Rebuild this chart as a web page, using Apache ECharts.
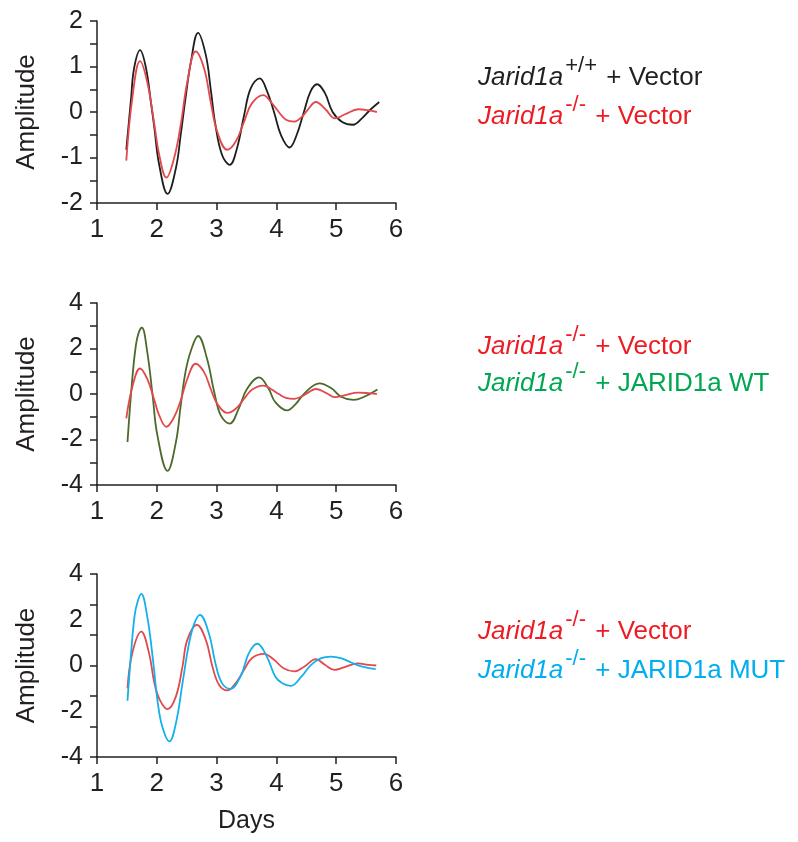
<!DOCTYPE html>
<html>
<head>
<meta charset="utf-8">
<script src="https://cdn.jsdelivr.net/npm/echarts@6/dist/echarts.min.js"></script>
<style>
html, body { margin: 0; padding: 0; background: #ffffff; }
#chart { width: 798px; height: 842px; }
</style>
</head>
<body>
<div id="chart"></div>
<script>
// Oscillation traces: amplitude against days.

// Jarid1a+/+ + Vector (top panel)
const wtVectorDays = [1.49, 1.57, 1.62, 1.72, 1.82, 1.9, 1.96, 2.04, 2.18, 2.32, 2.4, 2.48, 2.57, 2.69, 2.82, 2.9, 2.98, 3.09, 3.22, 3.34, 3.46, 3.57, 3.72, 3.84, 3.96, 4.08, 4.22, 4.34, 4.46, 4.57, 4.68, 4.81, 4.94, 5.1, 5.28, 5.43, 5.57, 5.72];
const wtVectorAmp  = [-0.83, 0.30, 0.96, 1.36, 0.96, 0.23, -0.36, -1.16, -1.80, -1.23, -0.5, 0.3, 1.1, 1.74, 1.25, 0.52, -0.28, -0.94, -1.16, -0.8, -0.07, 0.52, 0.74, 0.47, 0.0, -0.52, -0.78, -0.5, 0.0, 0.45, 0.61, 0.42, 0.0, -0.22, -0.28, -0.14, 0.05, 0.22];

// Jarid1a-/- + Vector (top and middle panels)
const koVectorDays = [1.49, 1.59, 1.72, 1.84, 1.96, 2.04, 2.16, 2.29, 2.4, 2.51, 2.65, 2.79, 2.9, 3.01, 3.18, 3.32, 3.46, 3.59, 3.78, 3.92, 4.04, 4.16, 4.3, 4.43, 4.53, 4.66, 4.82, 4.98, 5.15, 5.37, 5.53, 5.68];
const koVectorAmp  = [-1.07, 0.30, 1.12, 0.66, -0.28, -0.94, -1.44, -1.01, -0.28, 0.66, 1.33, 0.96, 0.23, -0.43, -0.83, -0.65, -0.21, 0.19, 0.37, 0.2, 0.0, -0.17, -0.21, -0.1, 0.06, 0.22, 0.06, -0.14, -0.05, 0.06, 0.04, 0];

// Jarid1a-/- + JARID1a WT (middle panel)
const koWtDays = [1.51, 1.59, 1.65, 1.7, 1.75, 1.84, 1.93, 2.01, 2.18, 2.32, 2.4, 2.48, 2.57, 2.69, 2.84, 2.96, 3.07, 3.22, 3.37, 3.51, 3.71, 3.87, 3.98, 4.18, 4.31, 4.47, 4.72, 4.92, 5.08, 5.29, 5.47, 5.69];
const koWtAmp  = [-2.11, 0.67, 2.14, 2.72, 2.92, 1.85, -0.06, -1.82, -3.38, -2.11, -0.5, 0.97, 1.9, 2.55, 1.55, 0.09, -0.94, -1.30, -0.64, 0.23, 0.73, 0.23, -0.35, -0.72, -0.48, 0.03, 0.47, 0.25, -0.12, -0.26, -0.12, 0.2];

// Jarid1a-/- + Vector (bottom panel)
const koVector3Days = [1.51, 1.59, 1.74, 1.87, 1.96, 2.05, 2.18, 2.32, 2.43, 2.51, 2.67, 2.82, 2.93, 3.04, 3.18, 3.32, 3.46, 3.59, 3.79, 3.96, 4.12, 4.3, 4.47, 4.66, 4.81, 4.97, 5.14, 5.36, 5.53, 5.67];
const koVector3Amp  = [-1.0, 0.54, 1.48, 0.54, -0.77, -1.5, -1.91, -1.35, -0.04, 1.12, 1.78, 1.12, -0.04, -0.84, -1.09, -0.77, -0.19, 0.32, 0.51, 0.25, -0.12, -0.26, -0.04, 0.28, 0.03, -0.19, -0.07, 0.09, 0.03, 0];

// Jarid1a-/- + JARID1a MUT (bottom panel)
const koMutDays = [1.51, 1.57, 1.63, 1.68, 1.74, 1.84, 1.93, 2.01, 2.09, 2.21, 2.32, 2.43, 2.54, 2.63, 2.72, 2.87, 2.98, 3.09, 3.23, 3.4, 3.54, 3.68, 3.84, 3.98, 4.1, 4.24, 4.42, 4.58, 4.75, 4.91, 5.08, 5.25, 5.42, 5.66];
const koMutAmp  = [-1.54, 0.54, 2.2, 2.8, 3.13, 2.14, 0.39, -1.5, -2.66, -3.32, -2.52, -0.77, 0.98, 1.85, 2.21, 1.41, 0.10, -0.77, -1.02, -0.48, 0.54, 0.95, 0.39, -0.48, -0.78, -0.89, -0.48, 0.03, 0.32, 0.39, 0.32, 0.13, -0.04, -0.16];

// Axis ranges
const dayTicks = [1, 6, 1];           // min, max, step
const ampRange1 = [-2, 2, 0.5];       // min, max, tick step
const ampRange2 = [-4, 4, 1];
const ampRange3 = [-4, 4, 4 / 3];
const ampLabels3 = [-2, 2];           // extra labels on the bottom panel

const FONT = '"Liberation Sans", Arial, Helvetica, sans-serif';
const AXIS = '#231f20';
const C_BLACK = '#1e1e1e', C_RED = '#e2494c', C_GREEN = '#4a6b2a', C_BLUE = '#14b0ec';

function pairs(xs, ys) { return xs.map((x, i) => [x, ys[i]]); }

const grids = [
  { left: 97, top: 21, width: 299, height: 182 },
  { left: 97, top: 303, width: 299, height: 182 },
  { left: 97, top: 574, width: 299, height: 183 }
];

function xAxisFor(gi, withName) {
  return {
    gridIndex: gi, type: 'value', min: dayTicks[0], max: dayTicks[1], interval: dayTicks[2],
    axisLine: { onZero: false, lineStyle: { color: AXIS, width: 1.5 } },
    axisTick: { length: 7, lineStyle: { color: AXIS, width: 1.5 } },
    axisLabel: { color: AXIS, fontSize: 26, fontFamily: FONT, margin: 14 },
    splitLine: { show: false },
    name: withName ? 'Days' : '', nameLocation: 'middle', nameGap: 52,
    nameTextStyle: { color: AXIS, fontSize: 25, fontFamily: FONT }
  };
}

function yAxisFor(gi, range, labelFn) {
  return {
    gridIndex: gi, type: 'value', position: 'left', min: range[0], max: range[1], interval: range[2],
    axisLine: { show: true, onZero: false, lineStyle: { color: AXIS, width: 1.5 } },
    axisTick: { show: true, length: 7, lineStyle: { color: AXIS, width: 1.5 } },
    axisLabel: { color: AXIS, fontSize: 25, fontFamily: FONT, margin: 14, formatter: labelFn },
    splitLine: { show: false },
    name: 'Amplitude', nameLocation: 'middle', nameGap: 57,
    nameTextStyle: { color: AXIS, fontSize: 26, fontFamily: FONT }
  };
}

const yAxes = [
  yAxisFor(0, ampRange1, v => (Math.abs(v - Math.round(v)) < 1e-6 ? String(Math.round(v)) : '')),
  yAxisFor(1, ampRange2, v => (Math.round(v) % 2 === 0 ? String(Math.round(v)) : '')),
  yAxisFor(2, ampRange3, v => {
    const r = Math.round(v);
    return (Math.abs(v - r) < 1e-6 && (r === 0 || Math.abs(r) === 4)) ? String(r) : '';
  }),
  {
    gridIndex: 2, type: 'value', position: 'left', offset: 0,
    min: ampRange3[0], max: ampRange3[1], interval: 2,
    axisLine: { show: false, onZero: false }, axisTick: { show: false }, splitLine: { show: false },
    axisLabel: {
      color: AXIS, fontSize: 25, fontFamily: FONT, margin: 14,
      formatter: v => (ampLabels3.indexOf(Math.round(v)) >= 0 ? String(Math.round(v)) : '')
    }
  }
];

function line(name, data, color, gi) {
  return {
    name, type: 'line', data, xAxisIndex: gi, yAxisIndex: gi,
    smooth: 0.4, showSymbol: false, symbol: 'none',
    lineStyle: { color, width: 1.8 }, itemStyle: { color }, z: 3
  };
}

// Legend lines with italic gene name and superscript genotype
function legendLine(x, y, color, sup, rest) {
  return {
    type: 'text', x, y, silent: true,
    style: {
      text: '{g|Jarid1a}{s|' + sup + '}{n| ' + rest + '}',
      fill: color, verticalAlign: 'middle', align: 'left',
      rich: {
        g: { fontSize: 26, fontStyle: 'italic', fontFamily: FONT, fill: color },
        s: { fontSize: 22, fontFamily: FONT, fill: color, padding: [0, 0, 24, 2] },
        n: { fontSize: 26, fontFamily: FONT, fill: color, padding: [0, 0, 0, 2] }
      }
    }
  };
}

const option = {
  animation: false,
  backgroundColor: '#ffffff',
  grid: grids,
  xAxis: [xAxisFor(0, false), xAxisFor(1, false), xAxisFor(2, true)],
  yAxis: yAxes,
  series: [
    line('Jarid1a+/+ + Vector', pairs(wtVectorDays, wtVectorAmp), C_BLACK, 0),
    line('Jarid1a-/- + Vector', pairs(koVectorDays, koVectorAmp), C_RED, 0),
    line('Jarid1a-/- + JARID1a WT', pairs(koWtDays, koWtAmp), C_GREEN, 1),
    line('Jarid1a-/- + Vector', pairs(koVectorDays, koVectorAmp), C_RED, 1),
    line('Jarid1a-/- + Vector', pairs(koVector3Days, koVector3Amp), C_RED, 2),
    line('Jarid1a-/- + JARID1a MUT', pairs(koMutDays, koMutAmp), C_BLUE, 2)
  ],
  graphic: [
    legendLine(478, 78, '#231f20', '+/+', '+ Vector'),
    legendLine(478, 117, '#ed1c24', '-/-', '+ Vector'),
    legendLine(478, 347, '#ed1c24', '-/-', '+ Vector'),
    legendLine(478, 384, '#00a651', '-/-', '+ JARID1a WT'),
    legendLine(478, 632, '#ed1c24', '-/-', '+ Vector'),
    legendLine(478, 671, '#00aeef', '-/-', '+ JARID1a MUT')
  ]
};

const chart = echarts.init(document.getElementById('chart'), null, { renderer: 'canvas' });
chart.setOption(option);
</script>
</body>
</html>
